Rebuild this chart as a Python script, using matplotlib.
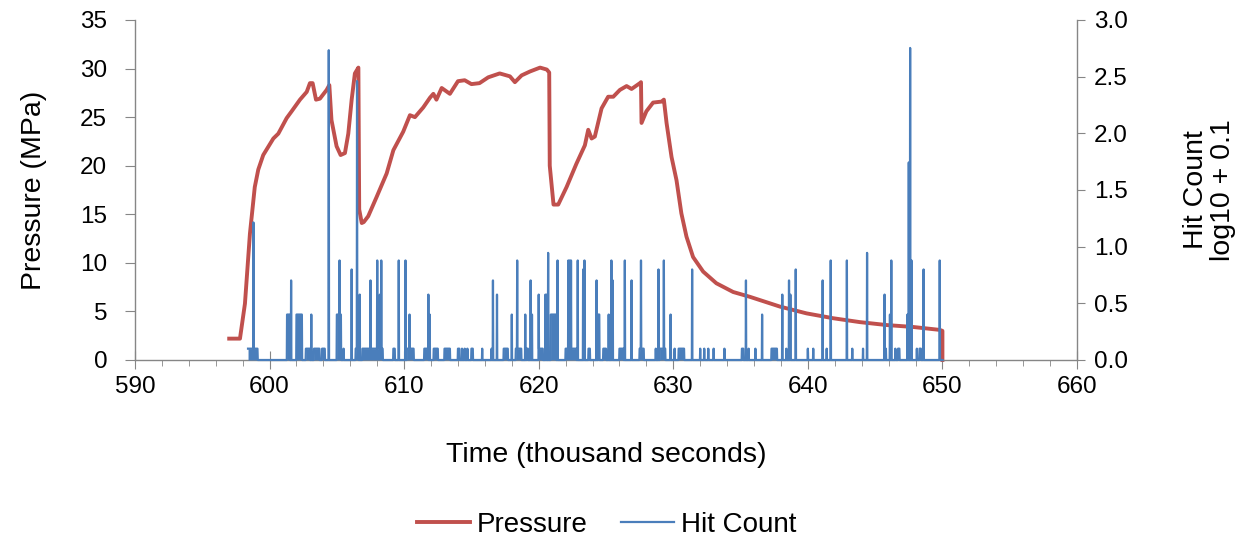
import numpy as np
import matplotlib
matplotlib.use("Agg")
import matplotlib.pyplot as plt
from matplotlib.ticker import MultipleLocator, FormatStrFormatter

plt.rcParams['font.family'] = ['Liberation Sans', 'DejaVu Sans']

# pressure record (thousand seconds, MPa)
p_time = [597.0, 597.8, 598.17, 598.54, 598.9, 599.16, 599.53, 600.28, 600.65, 601.27,
          601.64, 602.26, 602.76, 603.0, 603.2, 603.45, 603.74, 604.24, 604.44, 604.6,
          604.98, 605.28, 605.6, 605.85, 606.1, 606.34, 606.6, 606.66, 606.85, 607.0,
          607.33, 607.96, 608.7, 609.2, 609.93, 610.43, 610.8, 611.42, 611.92, 612.17,
          612.4, 612.79, 613.4, 614.0, 614.5, 615.0, 615.6, 616.25, 617.1, 617.86,
          618.23, 618.73, 619.35, 620.1, 620.6, 620.78, 620.82, 621.1, 621.45, 622.07,
          622.8, 623.43, 623.68, 623.93, 624.17, 624.67, 625.16, 625.54, 626.03, 626.53,
          626.9, 627.52, 627.6, 627.64, 628.0, 628.5, 629.13, 629.3, 629.5, 629.87,
          630.24, 630.6, 630.98, 631.47, 632.22, 633.2, 634.45, 635.7, 637.92, 639.9,
          641.88, 643.86, 645.84, 647.82, 649.8, 650.0, 650.0]
pressure = [2.2, 2.2, 5.8, 13.0, 17.8, 19.6, 21.1, 22.8, 23.3, 24.9,
            25.6, 26.8, 27.6, 28.5, 28.5, 26.8, 26.9, 27.8, 28.3, 24.7,
            22.0, 21.1, 21.3, 23.3, 26.8, 29.5, 30.1, 15.5, 14.1, 14.2,
            14.8, 16.8, 19.2, 21.6, 23.5, 25.2, 25.0, 26.0, 27.0, 27.4,
            26.8, 28.0, 27.4, 28.7, 28.8, 28.4, 28.5, 29.1, 29.5, 29.2,
            28.6, 29.3, 29.7, 30.1, 29.9, 29.6, 20.0, 16.0, 16.0, 17.8,
            20.2, 22.1, 23.7, 22.8, 23.0, 25.9, 27.1, 27.1, 27.8, 28.2,
            27.9, 28.5, 28.6, 24.4, 25.6, 26.5, 26.6, 26.8, 24.4, 20.9,
            18.5, 15.1, 12.7, 10.6, 9.1, 7.9, 7.0, 6.5, 5.5, 4.8,
            4.3, 3.9, 3.6, 3.4, 3.1, 3.0, 0.0]

# acoustic emission hits, sampled every 0.02 thousand seconds
hit_start, hit_end, hit_step = 598.4, 650.0, 0.02
ones_runs = [(598.4, 599.1), (602.7, 603.0), (603.3, 603.7), (603.9, 604.1), (605.5, 605.5),
             (606.4, 606.6), (606.9, 608.4), (609.2, 609.3), (610.2, 610.7), (611.5, 611.8),
             (612.2, 612.5), (613.0, 613.4), (614.0, 614.1), (614.3, 614.3), (614.5, 614.5),
             (614.7, 614.7), (615.0, 615.1), (615.8, 615.8), (616.5, 616.5), (617.4, 617.7),
             (618.3, 618.7), (619.1, 619.2), (620.0, 620.3), (622.0, 622.8), (623.7, 623.8),
             (624.8, 625.0), (626.0, 626.3), (627.5, 627.8), (628.7, 628.7), (629.0, 629.4),
             (630.1, 630.1), (630.4, 630.8), (632.0, 632.0), (632.3, 632.3), (632.6, 632.6),
             (633.0, 633.0), (633.8, 633.8), (635.1, 635.2), (635.6, 635.6), (636.1, 636.1),
             (637.3, 637.7), (638.4, 638.4), (640.0, 640.0), (640.4, 640.4), (641.4, 641.4),
             (643.3, 643.3), (644.1, 644.1), (645.8, 645.8), (646.5, 646.5), (646.7, 646.8),
             (648.1, 648.1), (648.3, 648.4)]
twos_runs = [(601.3, 601.5), (602.0, 602.4), (605.0, 605.3), (620.9, 621.3), (624.4, 624.5)]
spike_times = [598.8, 601.6, 603.1, 604.4, 605.2, 606.1, 606.5, 606.7, 607.5, 608.0,
               608.2, 608.3, 609.6, 610.1, 610.4, 611.8, 611.9, 616.6, 616.9, 618.0,
               618.4, 619.0, 619.4, 619.5, 620.0, 620.5, 620.6, 620.7, 621.4, 622.2,
               622.3, 622.4, 622.9, 623.3, 623.4, 624.3, 625.2, 625.4, 625.5, 626.4,
               626.9, 627.6, 628.9, 629.3, 629.8, 631.4, 635.4, 636.6, 638.1, 638.6,
               638.7, 639.1, 641.1, 641.7, 642.9, 644.4, 645.7, 646.1, 646.2, 647.4,
               647.5, 647.6, 647.7, 648.6, 649.8]
spike_counts = [13, 4, 2, 430, 6, 5, 230, 3, 4, 6,
                3, 6, 6, 6, 2, 3, 2, 4, 3, 2,
                6, 2, 4, 2, 3, 3, 3, 7, 6, 6,
                6, 6, 6, 5, 6, 4, 2, 6, 4, 6,
                4, 6, 5, 6, 2, 5, 4, 2, 3, 4,
                3, 5, 4, 6, 6, 7, 3, 2, 6, 2,
                44, 450, 6, 5, 6]

n = int(round((hit_end - hit_start) / hit_step)) + 1
hit_time = hit_start + np.arange(n) * hit_step
counts = np.zeros(n)


def idx(t):
    return int(round((t - hit_start) / hit_step))


for a, b in ones_runs:
    counts[idx(a):idx(b) + 1] = 1
for a, b in twos_runs:
    counts[idx(a):idx(b) + 1] = 2
for t, c in zip(spike_times, spike_counts):
    counts[idx(t)] = c

hit_log = np.where(counts > 0, np.log10(np.maximum(counts, 1)) + 0.1, 0.0)

red = '#C0504D'
blue = '#4A7EBB'
gray = '#868686'

fig = plt.figure(figsize=(12.53, 5.42), dpi=100)
ax = fig.add_axes([135 / 1253, 1 - 360 / 542, (1077 - 135) / 1253, 340 / 542])
ax2 = ax.twinx()

l1, = ax.plot(p_time, pressure, color=red, lw=2.8, clip_on=False, label='Pressure',
              solid_joinstyle='round')
# dense hit clusters read as solid blocks in the original
ax2.fill_between(hit_time, hit_log, 0, color=blue, lw=0)
l2, = ax2.plot(hit_time, hit_log, color=blue, lw=1.6, clip_on=False, label='Hit Count')

ax.set_xlim(590, 660)
ax.set_ylim(0, 35)
ax2.set_ylim(0, 3.0)
ax.xaxis.set_major_locator(MultipleLocator(10))
ax.xaxis.set_minor_locator(MultipleLocator(2))
ax.yaxis.set_major_locator(MultipleLocator(5))
ax2.yaxis.set_major_locator(MultipleLocator(0.5))
ax2.yaxis.set_major_formatter(FormatStrFormatter('%.1f'))

for a in (ax, ax2):
    a.spines['top'].set_visible(False)
    for s in ('left', 'right', 'bottom'):
        a.spines[s].set_color(gray)
        a.spines[s].set_linewidth(1.0)
ax.spines['right'].set_visible(False)
ax2.spines['left'].set_visible(False)
ax2.spines['bottom'].set_visible(False)

ax.tick_params(axis='x', which='major', direction='inout', length=13, color=gray,
               labelsize=17.5, pad=5)
ax.tick_params(axis='x', which='minor', direction='out', length=4.5, color=gray)
ax.tick_params(axis='y', direction='out', length=7, color=gray, labelsize=17.5, pad=13)
ax2.tick_params(axis='y', direction='out', length=6, color=gray, labelsize=17.5, pad=6)

ax.set_ylabel('Pressure (MPa)', fontsize=20.5, labelpad=24)
ax.set_xlabel('Time (thousand seconds)', fontsize=20.5, labelpad=32)
ax2.set_ylabel('Hit Count\nlog10 + 0.1', fontsize=20.5, rotation=90, linespacing=1.05)
ax2.yaxis.set_label_coords(1.1125, 0.5)

fig.legend([l1, l2], ['Pressure', 'Hit Count'], loc='center', bbox_to_anchor=(607 / 1253, 1 - 525 / 542),
           ncol=2, frameon=False, fontsize=20, handlelength=1.9, handletextpad=0.25,
           columnspacing=1.2)

fig.savefig('out.png', dpi=100)
